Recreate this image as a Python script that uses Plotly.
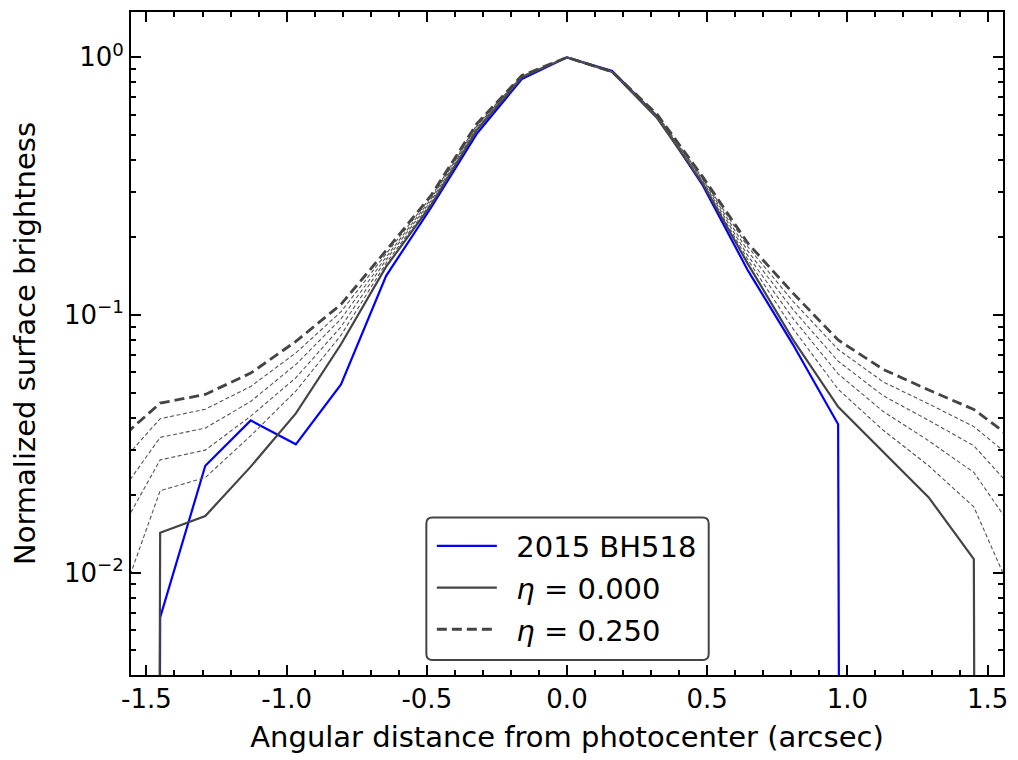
import plotly.graph_objects as go

# Angular distance from photocenter (arcsec), sample positions
x_arcsec = [-1.612, -1.451, -1.290, -1.128, -0.967, -0.806, -0.645, -0.484, -0.322, -0.161,
            0.0, 0.161, 0.322, 0.484, 0.645, 0.806, 0.967, 1.128, 1.290, 1.451, 1.612]

# Observed profile of 2015 BH518 (0 = no flux, None = not sampled)
bh518 = [0.0, 0.0067, 0.026, 0.039, 0.0315, 0.0538, 0.142, 0.262, 0.505, 0.824,
         1.0, 0.885, 0.59, 0.319, 0.149, 0.0768, 0.0377, 0.0, None, None, None]

# Model profiles for various eta
eta_000 = [0.0, 0.0143, 0.0166, 0.0258, 0.0415, 0.077, 0.154, 0.268, 0.521, 0.837,
           1.0, 0.878, 0.580, 0.324, 0.158, 0.0803, 0.0440, 0.0295, 0.0196, 0.0113, 0.0]
eta_050 = [0.0067, 0.0208, 0.0234, 0.0340, 0.0507, 0.0835, 0.159, 0.273, 0.527, 0.840,
           1.0, 0.878, 0.584, 0.328, 0.164, 0.0886, 0.0515, 0.0357, 0.0260, 0.0180, 0.0072]
eta_100 = [0.0133, 0.0274, 0.0299, 0.0405, 0.0571, 0.090, 0.164, 0.278, 0.533, 0.842,
           1.0, 0.879, 0.588, 0.332, 0.170, 0.097, 0.0591, 0.0422, 0.0325, 0.0245, 0.0137]
eta_150 = [0.0190, 0.0335, 0.0364, 0.0462, 0.0643, 0.0966, 0.168, 0.283, 0.540, 0.845,
           1.0, 0.879, 0.592, 0.336, 0.177, 0.105, 0.0662, 0.0486, 0.0390, 0.0311, 0.0199]
eta_200 = [0.0252, 0.0396, 0.0431, 0.0528, 0.0713, 0.103, 0.173, 0.288, 0.546, 0.847,
           1.0, 0.880, 0.596, 0.340, 0.184, 0.113, 0.0735, 0.0550, 0.0452, 0.0369, 0.0265]
eta_250 = [0.0318, 0.0455, 0.0492, 0.0595, 0.0790, 0.110, 0.178, 0.292, 0.552, 0.850,
           1.0, 0.880, 0.600, 0.344, 0.190, 0.1216, 0.0800, 0.0615, 0.0512, 0.0430, 0.0318]

x_ticks = [-1.5, -1.0, -0.5, 0.0, 0.5, 1.0, 1.5]
x_tick_labels = ["-1.5", "-1.0", "-0.5", "0.0", "0.5", "1.0", "1.5"]
y_ticks = [0.01, 0.1, 1.0]
y_tick_labels = ["10<sup>\u22122</sup>", "10<sup>\u22121</sup>", "10<sup>0</sup>"]
y_minor = [0.004, 0.005, 0.006, 0.007, 0.008, 0.009,
           0.02, 0.03, 0.04, 0.05, 0.06, 0.07, 0.08, 0.09,
           0.2, 0.3, 0.4, 0.5, 0.6, 0.7, 0.8, 0.9]

FLOOR = 1e-60  # non-positive values are clipped like a log axis does


def clip(vals):
    return [None if v is None else (v if v > 0 else FLOOR) for v in vals]


GRAY = "#444444"
THIN = "#555555"
FONT = "DejaVu Sans"
SP = "\u2002"

fig = go.Figure()

fig.add_trace(go.Scatter(x=x_arcsec, y=clip(bh518), mode="lines", name=SP + "2015 BH518",
                         line=dict(color="#0000ff", width=2.2), legendrank=1,
                         legendgroup="a"))
fig.add_trace(go.Scatter(x=x_arcsec, y=clip(eta_000), mode="lines",
                         name=SP + "<i>\u03b7</i> = 0.000",
                         line=dict(color=GRAY, width=2.2), legendrank=2, legendgroup="b"))
for vals in (eta_050, eta_100, eta_150, eta_200):
    fig.add_trace(go.Scatter(x=x_arcsec, y=clip(vals), mode="lines", showlegend=False,
                             line=dict(color=THIN, width=1.1, dash="4px,2.5px")))
fig.add_trace(go.Scatter(x=x_arcsec, y=clip(eta_250), mode="lines",
                         name=SP + "<i>\u03b7</i> = 0.250",
                         line=dict(color=GRAY, width=2.8, dash="10px,5px"), legendrank=3,
                         legendgroup="c"))

axis_common = dict(showline=True, linewidth=2, linecolor="black", mirror="allticks",
                   ticks="inside", ticklen=10, tickwidth=2, tickcolor="black",
                   showgrid=False, zeroline=False,
                   tickfont=dict(family=FONT, size=26, color="black"))

fig.update_xaxes(range=[-1.555, 1.555], tickmode="array", tickvals=x_ticks,
                 ticktext=x_tick_labels,
                 minor=dict(ticks="inside", ticklen=5, tickwidth=1.5, tickcolor="black",
                            dtick=0.1, tick0=0.0),
                 title=dict(text="Angular distance from photocenter (arcsec)",
                            font=dict(family=FONT, size=29, color="black"), standoff=13),
                 **axis_common)
fig.update_yaxes(type="log", range=[-2.397, 0.176], tickmode="array", tickvals=y_ticks,
                 ticktext=y_tick_labels,
                 minor=dict(ticks="inside", ticklen=5, tickwidth=1.5, tickcolor="black",
                            tickmode="array", tickvals=y_minor),
                 title=dict(text="Normalized surface brightness",
                            font=dict(family=FONT, size=29, color="black"), standoff=20),
                 **axis_common)

# rounded legend frame
fig.add_shape(type="path", xref="paper", yref="paper", layer="above",
              path=("M 0.3456,0.2376 L 0.6556,0.2376 Q 0.6625,0.2376 0.6625,0.2286 "
                    "L 0.6625,0.0316 Q 0.6625,0.0226 0.6556,0.0226 L 0.3456,0.0226 "
                    "Q 0.3387,0.0226 0.3387,0.0316 L 0.3387,0.2286 Q 0.3387,0.2376 0.3456,0.2376 Z"),
              fillcolor="white", line=dict(color=GRAY, width=2))

fig.update_layout(
    width=1018, height=760,
    margin=dict(l=131, r=13, t=10, b=85),
    plot_bgcolor="white", paper_bgcolor="white",
    font=dict(family=FONT, color="black"),
    legend=dict(x=0.345, y=0.233, xanchor="left", yanchor="top",
                bgcolor="rgba(0,0,0,0)", borderwidth=0,
                font=dict(family=FONT, size=29, color="black"),
                tracegroupgap=1, itemwidth=60),
)

fig.write_html("out.html")
